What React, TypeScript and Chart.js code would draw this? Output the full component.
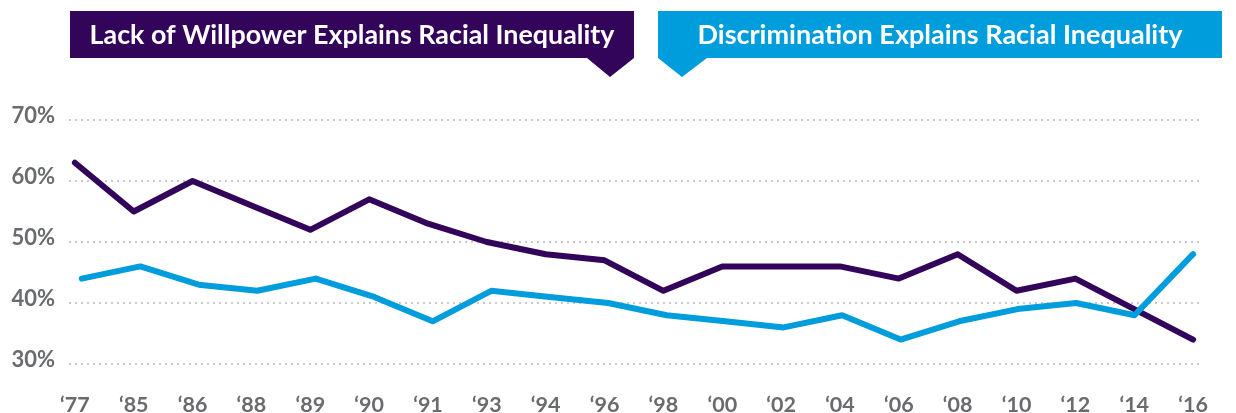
import React, { useEffect, useRef } from 'react';
import { Chart, registerables } from 'chart.js';

Chart.register(...registerables);

const years = ['\u201877', '\u201885', '\u201886', '\u201888', '\u201889', '\u201890', '\u201891', '\u201893', '\u201894', '\u201896', '\u201898', '\u201800', '\u201802', '\u201804', '\u201806', '\u201808', '\u201810', '\u201812', '\u201814', '\u201816'];
const willpower = [63, 55, 60, 56, 52, 57, 53, 50, 48, 47, 42, 46, 46, 46, 44, 48, 42, 44, 39, 34];
const discrimination = [44, 46, 43, 42, 44, 41, 37, 42, 41, 40, 38, 37, 36, 38, 34, 37, 39, 40, 38, 48];
const yTicks = [30, 40, 50, 60, 70];
const titleWillpower = 'Lack of Willpower Explains Racial Inequality';
const titleDiscrimination = 'Discrimination Explains Racial Inequality';

const PURPLE = '#32055B';
const BLUE = '#009DDC';
const GREY_TEXT = '#6A6B6E';
const FONT = 'Lato, "Open Sans", sans-serif';

type BoxSpec = {
  x0: number; x1: number; y0: number; y1: number;
  triL: number; triR: number; tipX: number; tipY: number;
  color: string; text: string; textWidth: number;
};

function drawTitleBox(ctx: CanvasRenderingContext2D, b: BoxSpec) {
  ctx.fillStyle = b.color;
  ctx.beginPath();
  ctx.moveTo(b.x0, b.y0);
  ctx.lineTo(b.x1, b.y0);
  ctx.lineTo(b.x1, b.y1);
  ctx.lineTo(b.triR, b.y1);
  ctx.lineTo(b.tipX, b.tipY);
  ctx.lineTo(b.triL, b.y1);
  ctx.lineTo(b.x0, b.y1);
  ctx.closePath();
  ctx.fill();
  ctx.font = `700 24px ${FONT}`;
  const w = ctx.measureText(b.text).width;
  const size = Math.min(30, (24 * b.textWidth) / w);
  ctx.font = `700 ${size.toFixed(2)}px ${FONT}`;
  ctx.fillStyle = '#FFFFFF';
  ctx.textAlign = 'center';
  ctx.textBaseline = 'middle';
  ctx.fillText(b.text, (b.x0 + b.x1) / 2, (b.y0 + b.y1) / 2 + 1);
}

const titlePlugin = {
  id: 'titleBoxes',
  afterDraw(chart: any) {
    const ctx = chart.ctx as CanvasRenderingContext2D;
    ctx.save();
    drawTitleBox(ctx, {
      x0: 70, x1: 634, y0: 11, y1: 58, triL: 587, triR: 634, tipX: 610, tipY: 77,
      color: PURPLE, text: titleWillpower, textWidth: 525,
    });
    drawTitleBox(ctx, {
      x0: 658, x1: 1222, y0: 11, y1: 58, triL: 658, triR: 707, tipX: 682, tipY: 77,
      color: BLUE, text: titleDiscrimination, textWidth: 485,
    });
    ctx.restore();
  },
};

export default function App() {
  const canvasRef = useRef<HTMLCanvasElement | null>(null);

  useEffect(() => {
    if (!canvasRef.current) return;
    const chart = new Chart(canvasRef.current, {
      type: 'line',
      data: {
        datasets: [
          {
            label: 'Discrimination',
            data: discrimination.map((y, i) => ({ x: i, y })),
            borderColor: BLUE,
            borderWidth: 6,
            pointRadius: 0,
            tension: 0,
            borderCapStyle: 'round',
            borderJoinStyle: 'round',
            xAxisID: 'x2',
            order: 0,
          },
          {
            label: 'Willpower',
            data: willpower.map((y, i) => ({ x: i, y })),
            borderColor: PURPLE,
            borderWidth: 6,
            pointRadius: 0,
            tension: 0,
            borderCapStyle: 'round',
            borderJoinStyle: 'round',
            xAxisID: 'x',
            order: 1,
          },
        ],
      },
      options: {
        responsive: false,
        animation: false,
        layout: { padding: { top: 120, right: 15, bottom: 0, left: 0 } },
        plugins: {
          legend: { display: false },
          tooltip: { enabled: false },
          title: { display: false },
        },
        scales: {
          x: {
            type: 'linear',
            min: -0.1,
            max: 19.1,
            afterBuildTicks: (s: any) => {
              s.ticks = years.map((_, i) => ({ value: i }));
            },
            afterFit: (s: any) => {
              s.height = 49;
            },
            ticks: {
              callback: (v: any) => years[v as number],
              autoSkip: false,
              maxRotation: 0,
              minRotation: 0,
              padding: 28,
              color: GREY_TEXT,
              font: { family: FONT, size: 21.5, weight: 'bold' },
            },
            grid: { display: false, drawTicks: false },
            border: { display: false },
          },
          x2: {
            type: 'linear',
            display: false,
            min: -0.218,
            max: 19.101,
          },
          y: {
            min: 30,
            max: 70,
            afterBuildTicks: (s: any) => {
              s.ticks = yTicks.map((v) => ({ value: v }));
            },
            afterFit: (s: any) => {
              s.width = 69;
            },
            ticks: {
              callback: (v: any) => [`${v}%`, ''],
              padding: 14,
              color: GREY_TEXT,
              font: { family: FONT, size: 22, weight: 'bold', lineHeight: '8px' },
            },
            grid: { color: '#C9C9C9', lineWidth: 2, drawTicks: false },
            border: { display: false, dash: [2, 4] },
          },
        },
      },
      plugins: [titlePlugin],
    } as any);
    return () => chart.destroy();
  }, []);

  return (
    <div style={{ position: 'absolute', left: 0, top: 0, width: 1236, height: 413, background: '#fff' }}>
      <canvas ref={canvasRef} width={1236} height={413} />
    </div>
  );
}
